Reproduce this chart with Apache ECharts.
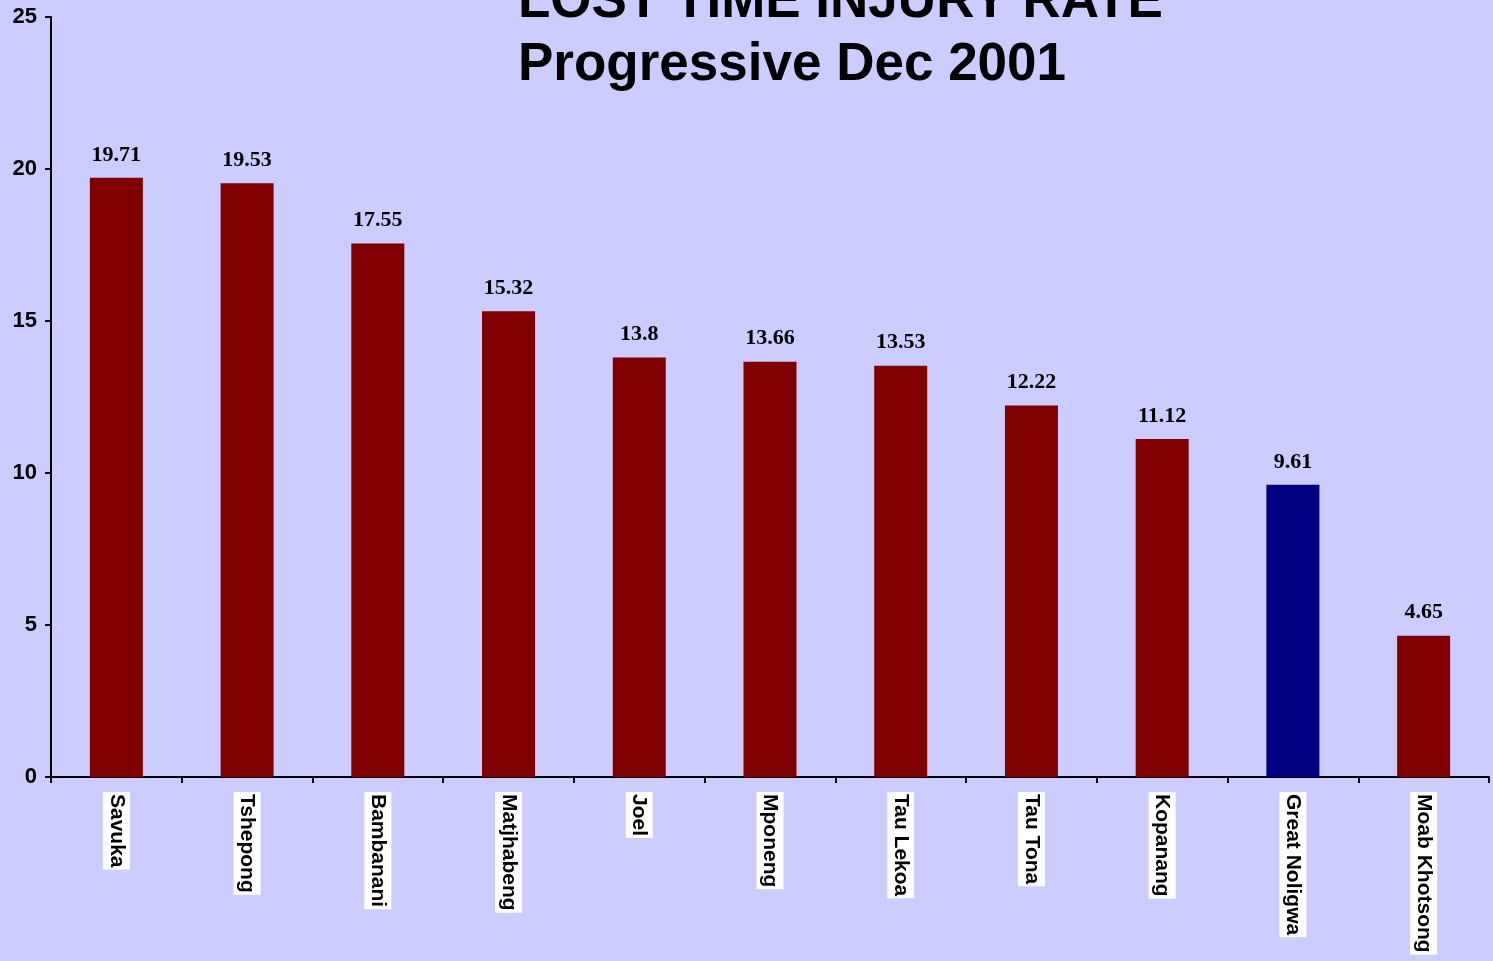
<!DOCTYPE html>
<html>
<head>
<meta charset="utf-8">
<script src="https://cdn.jsdelivr.net/npm/echarts@6/dist/echarts.min.js"></script>
<style>
html,body{margin:0;padding:0;background:#CCCCFF;}
#chart{width:1493px;height:961px;}
</style>
</head>
<body>
<div id="chart"></div>
<script>
var categories = ['Savuka','Tshepong','Bambanani','Matjhabeng','Joel','Mponeng','Tau Lekoa','Tau Tona','Kopanang','Great Noligwa','Moab Khotsong'];
var values = [19.71,19.53,17.55,15.32,13.8,13.66,13.53,12.22,11.12,9.61,4.65];
var highlight = 'Great Noligwa';
var yTicks = [0,5,10,15,20,25];

var chart = echarts.init(document.getElementById('chart'));
chart.setOption({
  backgroundColor:'#CCCCFF',
  animation:false,
  title:{
    text:'LOST TIME INJURY RATE\nProgressive Dec 2001',
    left:513,
    top:-34,
    textAlign:'left',
    textStyle:{fontFamily:'Liberation Sans',fontWeight:'bold',fontSize:53,lineHeight:63,color:'#000',align:'center'}
  },
  grid:{left:51,right:4,top:17,bottom:184,containLabel:false},
  xAxis:{
    type:'category',
    data:categories,
    boundaryGap:true,
    axisLine:{lineStyle:{color:'#000',width:2}},
    axisTick:{show:true,length:6,lineStyle:{color:'#000',width:2},alignWithLabel:false},
    axisLabel:{
      interval:0,
      rotate:-90,
      margin:15,
      fontFamily:'Liberation Sans',fontWeight:'bold',fontSize:21,lineHeight:23,
      color:'#000',
      backgroundColor:'#fff',
      padding:[2,2,2,2]
    }
  },
  yAxis:{
    type:'value',
    min:yTicks[0],
    max:yTicks[yTicks.length-1],
    interval:5,
    splitLine:{show:false},
    axisLine:{show:true,lineStyle:{color:'#000',width:2}},
    axisTick:{show:true,length:6,lineStyle:{color:'#000',width:2}},
    axisLabel:{margin:14,fontFamily:'Liberation Sans',fontWeight:'bold',fontSize:22,color:'#000'}
  },
  series:[{
    type:'bar',
    barWidth:53,
    data:values.map(function(v,i){
      return {value:v,itemStyle:{color:categories[i]===highlight?'#000080':'#800000'}};
    }),
    label:{
      show:true,
      position:'top',
      distance:12,
      fontFamily:'Liberation Serif',fontWeight:'bold',fontSize:22,color:'#000'
    }
  }]
});
</script>
</body>
</html>
